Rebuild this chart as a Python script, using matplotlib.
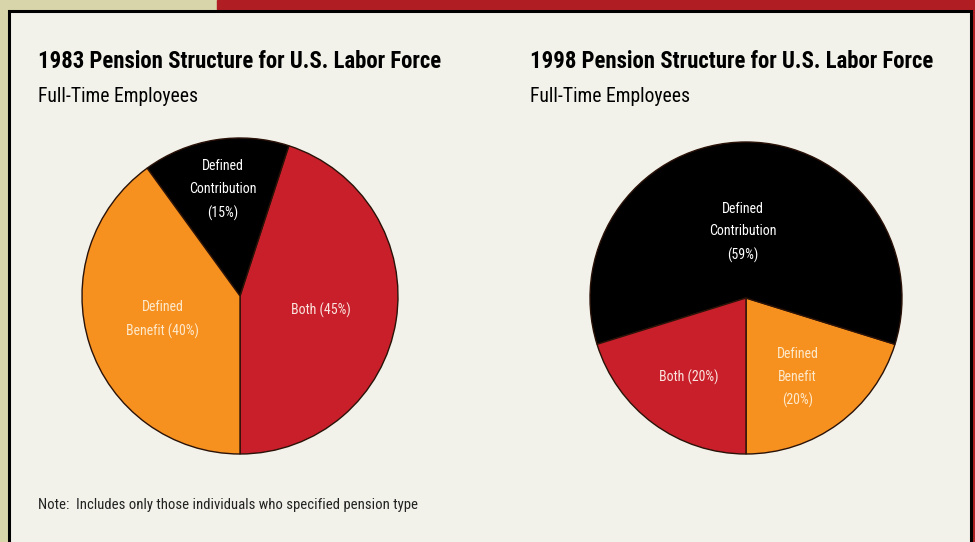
import matplotlib
matplotlib.use("Agg")
import matplotlib.pyplot as plt
from matplotlib.patches import Rectangle
from matplotlib import font_manager

# data
labels_1983 = ["Both (45%)", "Defined\nContribution\n(15%)", "Defined\nBenefit (40%)"]
values_1983 = [45, 15, 40]
labels_1998 = ["Defined\nBenefit\n(20%)", "Defined\nContribution\n(59%)", "Both (20%)"]
values_1998 = [20, 59, 20]

titles = ["1983 Pension Structure for U.S. Labor Force",
          "1998 Pension Structure for U.S. Labor Force"]
subtitle = "Full-Time Employees"
note = "Note:  Includes only those individuals who specified pension type"

RED = "#c81f2b"
ORANGE = "#f6901e"
BLACK = "#000000"
BG = "#f2f2ea"
KHAKI = "#d9d5aa"
BORDER_RED = "#b01e24"

W, H = 975, 542

# pick a narrow face if one is around
names = {f.name for f in font_manager.fontManager.ttflist}
narrow = [n for n in ["Roboto Condensed", "Liberation Sans Narrow", "Open Sans Condensed"]
          if n in names]
FONT = narrow[:1] + ["DejaVu Sans"]
STRETCH = "normal" if narrow else "condensed"
plt.rcParams["font.family"] = FONT

fig = plt.figure(figsize=(W / 100, H / 100), dpi=100, facecolor=KHAKI)


def fx(x):
    return x / W


def fy(y):
    return 1 - y / H


# frame
fig.patches.append(Rectangle((fx(217), fy(11)), fx(W - 217), 11 / H,
                             transform=fig.transFigure, color=BORDER_RED, zorder=-3))
fig.patches.append(Rectangle((fx(971), 0), fx(4), 1,
                             transform=fig.transFigure, color=BORDER_RED, zorder=-3))
fig.patches.append(Rectangle((fx(9), -0.01), fx(962), fy(11) + 0.01,
                             transform=fig.transFigure, facecolor=BG,
                             edgecolor="black", linewidth=2.2, zorder=-2))


def pie_axes(cx, cy, r):
    return fig.add_axes([fx(cx - r), fy(cy + r), 2 * r / W, 2 * r / H])


def tidy(ax):
    # pie() pads the limits to 1.25, pull them back so radius fills the axes
    ax.set_xlim(-1, 1)
    ax.set_ylim(-1, 1)
    ax.set_aspect("equal")
    ax.axis("off")


def fit(t, width_px):
    # shrink/grow a text so it spans the given width
    r = fig.canvas.get_renderer()
    w = t.get_window_extent(r).width
    t.set_fontsize(t.get_fontsize() * width_px / w)


lab = dict(ha="center", va="center", fontsize=10, fontstretch=STRETCH, linespacing=1.8)

ax1 = pie_axes(240, 296, 158)
ax1.pie(values_1983, colors=[RED, BLACK, ORANGE], startangle=270,
        counterclock=True, radius=1,
        wedgeprops=dict(edgecolor="#2a1208", linewidth=1.0))
tidy(ax1)
ax1.text(-0.11, 0.67, labels_1983[1], color="white", **lab)
ax1.text(0.51, -0.09, labels_1983[0], color="#fbe6df", **lab)
ax1.text(-0.49, -0.15, labels_1983[2], color="#fde9cc", **lab)

ax2 = pie_axes(746, 298, 156)
ax2.pie(values_1998, colors=[ORANGE, BLACK, RED], startangle=270,
        counterclock=True, radius=1,
        wedgeprops=dict(edgecolor="#2a1208", linewidth=1.0))
tidy(ax2)
ax2.text(-0.02, 0.42, labels_1998[1], color="white", **lab)
ax2.text(-0.37, -0.51, labels_1998[2], color="#fbe6df", **lab)
ax2.text(0.33, -0.51, labels_1998[0], color="#fde9cc", **lab)

# titles
for x, t in zip([38, 530], titles):
    tt = fig.text(fx(x), fy(61), t, fontsize=16, fontweight="bold",
                  fontstretch=STRETCH, ha="left", va="center")
    fit(tt, 404)
    st = fig.text(fx(x), fy(96), subtitle, fontsize=13, fontstretch=STRETCH,
                  ha="left", va="center")
    fit(st, 159)

nt = fig.text(fx(38), fy(505), note, fontsize=9, fontstretch=STRETCH,
              ha="left", va="center", color="#222222")
fit(nt, 380)

fig.savefig("out.png", dpi=100, facecolor=KHAKI)
